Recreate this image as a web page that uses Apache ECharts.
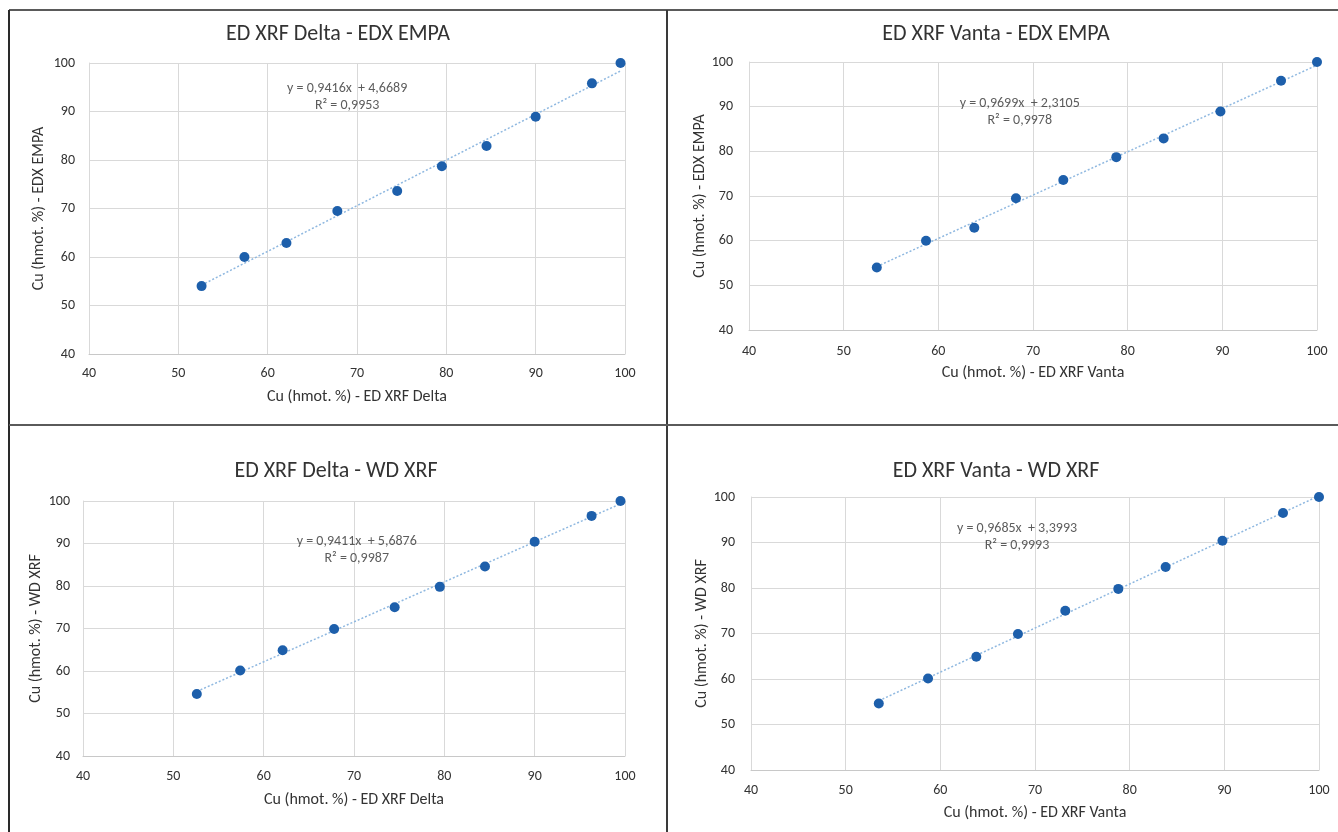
<!DOCTYPE html>
<html>
<head>
<meta charset="utf-8">
<style>
html,body{margin:0;padding:0;background:#fff;}
#chart{width:1338px;height:832px;}
</style>
<script src="https://cdn.jsdelivr.net/npm/echarts@6/dist/echarts.min.js"></script>
</head>
<body>
<div id="chart"></div>
<script>
// ---- data ----
var deltaXRF = [52.6, 57.4, 62.1, 67.8, 74.5, 79.5, 84.5, 90.0, 96.3, 99.5];
var vantaXRF = [53.5, 58.7, 63.8, 68.2, 73.2, 78.8, 83.8, 89.8, 96.2, 100.0];
var edxEMPA  = [54.0, 60.0, 62.9, 69.5, 73.6, 78.7, 82.9, 88.9, 95.8, 100.0];
var wdXRF    = [54.6, 60.1, 64.9, 69.9, 75.0, 79.8, 84.6, 90.4, 96.5, 100.0];

var titles = ['ED XRF Delta - EDX EMPA', 'ED XRF Vanta - EDX EMPA', 'ED XRF Delta - WD XRF', 'ED XRF Vanta - WD XRF'];
var xNames = ['Cu (hmot. %) - ED XRF Delta', 'Cu (hmot. %) - ED XRF Vanta', 'Cu (hmot. %) - ED XRF Delta', 'Cu (hmot. %) - ED XRF Vanta'];
var yNames = ['Cu (hmot. %) - EDX EMPA', 'Cu (hmot. %) - EDX EMPA', 'Cu (hmot. %) - WD XRF', 'Cu (hmot. %) - WD XRF'];
var slopes = [0.9416, 0.9699, 0.9411, 0.9685];
var intercepts = [4.6689, 2.3105, 5.6876, 3.3993];
var r2 = ['0,9953', '0,9978', '0,9987', '0,9993'];
var slopeText = ['0,9416', '0,9699', '0,9411', '0,9685'];
var interceptText = ['4,6689', '2,3105', '5,6876', '3,3993'];
var axisTicks = [40, 50, 60, 70, 80, 90, 100];

var pairs = [[deltaXRF, edxEMPA], [vantaXRF, edxEMPA], [deltaXRF, wdXRF], [vantaXRF, wdXRF]];

// ---- layout ----
var FONT = "Carlito, 'Liberation Sans Narrow', 'Liberation Sans', sans-serif";
var grids = [
  {left: 89, top: 63, width: 536, height: 291},
  {left: 749, top: 62, width: 568, height: 268},
  {left: 83, top: 501, width: 542, height: 255},
  {left: 751, top: 497, width: 568, height: 273}
];
var titlePos = [[333, 18], [991, 18], [331, 455], [991, 455]];
var xLabelMargin = [12, 14, 13, 13];
var xNameGap = [35, 35, 36, 35];
var yLabelMargin = [14, 16, 13, 16];
var yNameGap = [42, 37, 39, 39];
var eqAnchor = [[68.9, 92.9], [68.6, 88.9], [70.3, 88.5], [68.1, 91.3]];

var option = {
  backgroundColor: '#ffffff',
  animation: false,
  title: [],
  grid: [],
  xAxis: [],
  yAxis: [],
  series: [],
  graphic: [
    {type: 'line', shape: {x1: 9, y1: 10, x2: 1338, y2: 10}, style: {stroke: '#5a5a5a', lineWidth: 2}},
    {type: 'line', shape: {x1: 9, y1: 10, x2: 9, y2: 832}, style: {stroke: '#2a2a2a', lineWidth: 2}},
    {type: 'line', shape: {x1: 667, y1: 10, x2: 667, y2: 832}, style: {stroke: '#3a3a3a', lineWidth: 2}},
    {type: 'line', shape: {x1: 9, y1: 425, x2: 1338, y2: 425}, style: {stroke: '#5a5a5a', lineWidth: 2}}
  ]
};

for (var i = 0; i < 4; i++) {
  option.title.push({
    text: titles[i], left: titlePos[i][0], top: titlePos[i][1], textAlign: 'center',
    textStyle: {fontFamily: FONT, fontSize: 22, fontWeight: 'normal', color: '#333333'}
  });
  option.grid.push(Object.assign({containLabel: false}, grids[i]));
  option.xAxis.push({
    type: 'value', gridIndex: i, min: 40, max: 100, interval: 10,
    name: xNames[i], nameLocation: 'middle', nameGap: xNameGap[i],
    nameTextStyle: {fontFamily: FONT, fontSize: 16, color: '#333333'},
    axisLine: {show: true, lineStyle: {color: '#c8c8c8', width: 1}},
    axisTick: {show: false},
    axisLabel: {fontFamily: FONT, fontSize: 14, color: '#333333', margin: xLabelMargin[i],
      showMinLabel: true, showMaxLabel: true},
    splitLine: {show: true, lineStyle: {color: '#d9d9d9', width: 1}}
  });
  option.yAxis.push({
    type: 'value', gridIndex: i, min: 40, max: 100, interval: 10,
    name: yNames[i], nameLocation: 'middle', nameGap: yNameGap[i], nameRotate: 90,
    nameTextStyle: {fontFamily: FONT, fontSize: 16, color: '#333333'},
    axisLine: {show: true, lineStyle: {color: '#d9d9d9', width: 1}},
    axisTick: {show: false},
    axisLabel: {fontFamily: FONT, fontSize: 14, color: '#333333', margin: yLabelMargin[i],
      showMinLabel: true, showMaxLabel: true},
    splitLine: {show: true, lineStyle: {color: '#d9d9d9', width: 1}}
  });

  var xs = pairs[i][0], ys = pairs[i][1];
  var pts = xs.map(function (x, k) { return [x, ys[k]]; });
  var xmin = Math.min.apply(null, xs), xmax = Math.max.apply(null, xs);
  var trend = [[xmin, slopes[i] * xmin + intercepts[i]], [xmax, slopes[i] * xmax + intercepts[i]]];

  option.series.push({
    type: 'line', xAxisIndex: i, yAxisIndex: i, data: trend, symbol: 'none', silent: true,
    lineStyle: {color: '#8fb8e0', width: 1.5, type: [2, 2]}, z: 2
  });
  option.series.push({
    type: 'scatter', xAxisIndex: i, yAxisIndex: i, data: pts, symbol: 'circle', symbolSize: 10,
    itemStyle: {color: '#1d5fab', opacity: 1}, z: 3
  });
  option.series.push({
    type: 'scatter', xAxisIndex: i, yAxisIndex: i, symbolSize: 0, silent: true, z: 4,
    data: [eqAnchor[i]],
    label: {
      show: true, position: 'inside', align: 'center', verticalAlign: 'middle',
      fontFamily: FONT, fontSize: 14, color: '#333333', lineHeight: 17,
      formatter: 'y = ' + slopeText[i] + 'x  + ' + interceptText[i] + '\nR\u00B2 = ' + r2[i]
    }
  });
}

var chart = echarts.init(document.getElementById('chart'), null, {renderer: 'canvas'});
chart.setOption(option);
</script>
</body>
</html>
